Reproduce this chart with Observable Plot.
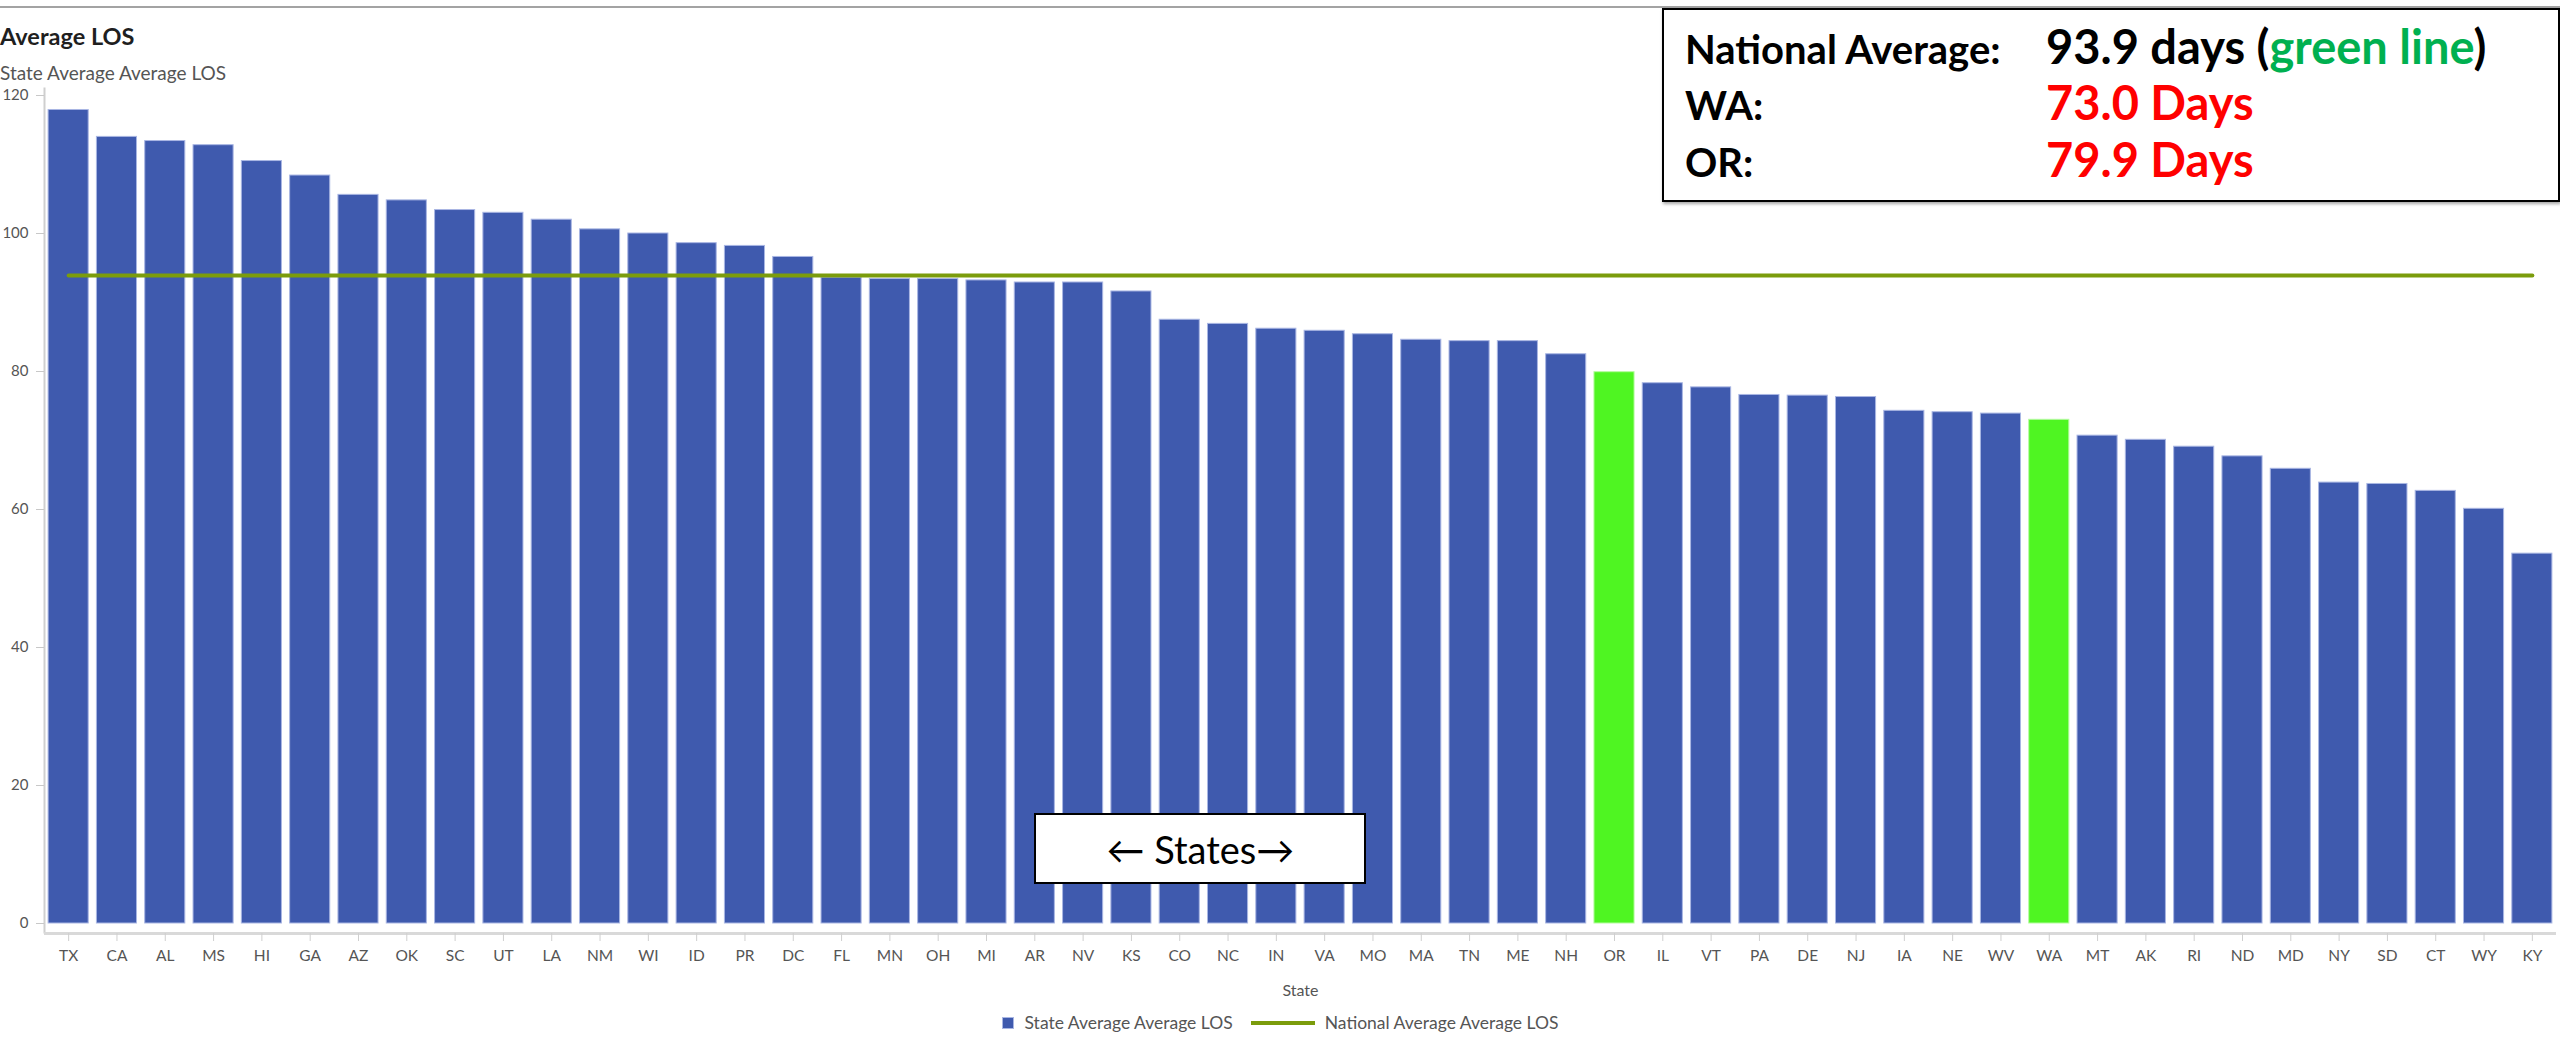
<!DOCTYPE html>
<html>
<head>
<meta charset="utf-8">
<script src="https://cdn.jsdelivr.net/npm/d3@7"></script>
<script src="https://cdn.jsdelivr.net/npm/@observablehq/plot@0.6"></script>
<style>
  html, body { margin: 0; padding: 0; background: #fff; width: 2560px; height: 1040px; overflow: hidden; }
  body { font-family: Lato, "Noto Sans", sans-serif; }
  #wrap { position: relative; width: 2560px; height: 1040px; }
  #header { position: relative; height: 88px; }
  #topline { position: absolute; left: 0; top: 6px; width: 2560px; height: 2px; background: #a3a3a3; }
  #title { position: absolute; left: 0; top: 25px; font-size: 23.5px; line-height: 23.5px; font-weight: 700; color: #1f1f1f; white-space: nowrap; }
  #subtitle { position: absolute; left: 0; top: 63px; font-size: 19px; line-height: 19px; color: #555; white-space: nowrap; }
  #chart { position: relative; height: 917px; }
  #legend { position: relative; height: 35px; display: flex; justify-content: center; align-items: center; font-size: 17.5px; color: #555; }
  #legend .sw { width: 12px; height: 12px; background: #3f5aae; border: 1px solid #a9b6e3; margin-right: 11px; box-sizing: border-box; }
  #legend .ln { width: 64px; height: 4px; background: #7b9c0c; margin: 0 10px 0 18px; }
  #note { position: absolute; left: 1662px; top: 8px; width: 898px; height: 194px; box-sizing: border-box; border: 2px solid #000; background: #fff; box-shadow: 1px 2px 3px rgba(0,0,0,0.35); font-family: Lato, "Noto Sans", sans-serif; font-weight: 700; color: #000; z-index: 5; }
  #note div { position: absolute; white-space: nowrap; }
  #note .c1 { font-size: 40px; line-height: 40px; }
  #note .c2 { font-size: 47px; line-height: 47px; }
  #states { position: absolute; top: 813px; height: 71px; box-sizing: border-box; border: 2px solid #000; background: #fff; display: flex; justify-content: center; align-items: center; font-size: 38px; color: #000; z-index: 5; white-space: nowrap; }
</style>
</head>
<body>
<div id="wrap">
  <div id="header">
    <div id="topline"></div>
    <div id="title">Average LOS</div>
    <div id="subtitle">State Average Average LOS</div>
  </div>
  <div id="chart"></div>
  <div id="legend"></div>
  <div id="note"></div>
  <div id="states"></div>
</div>
<script>
// ---- data ----
const states = ["TX","CA","AL","MS","HI","GA","AZ","OK","SC","UT","LA","NM","WI","ID","PR","DC","FL","MN","OH","MI","AR","NV","KS","CO","NC","IN","VA","MO","MA","TN","ME","NH","OR","IL","VT","PA","DE","NJ","IA","NE","WV","WA","MT","AK","RI","ND","MD","NY","SD","CT","WY","KY"];
const stateAverageLOS = [117.9,114.0,113.4,112.8,110.5,108.4,105.6,104.8,103.4,103.0,102.0,100.6,100.0,98.6,98.2,96.6,93.6,93.4,93.4,93.2,92.9,92.9,91.6,87.5,86.9,86.2,85.9,85.4,84.6,84.4,84.4,82.5,79.9,78.3,77.7,76.6,76.5,76.3,74.3,74.1,73.9,73.0,70.7,70.1,69.1,67.7,65.9,63.9,63.7,62.7,60.1,53.6];
const nationalAverageLOS = 93.9;
const highlighted = ["OR", "WA"];
const yTicks = [0, 20, 40, 60, 80, 100, 120];
const seriesNames = ["State Average Average LOS", "National Average Average LOS"];
const noteRows = [
  ["National Average:", "93.9 days", "green line"],
  ["WA:", "73.0 Days"],
  ["OR:", "79.9 Days"]
];
const statesBoxLabel = "\u2190 States\u2192";
const statesBoxSpan = ["AR", "MO"];

const BLUE = "#3f5aae", GREEN = "#4ff522", LINE = "#7b9c0c";

const data = states.map((s, i) => ({state: s, value: stateAverageLOS[i]}));

const chart = Plot.plot({
  width: 2560,
  height: 917,
  marginTop: 7,
  marginBottom: 82,
  marginLeft: 44,
  marginRight: 4,
  style: {fontFamily: "Lato, 'Noto Sans', sans-serif", fontSize: "15px", color: "#555", background: "transparent", overflow: "visible"},
  x: {domain: states, paddingInner: 0.17, paddingOuter: 0.085, round: false, label: null},
  y: {domain: [0, 120], label: null},
  marks: [
    Plot.barY(data, {x: "state", y: "value", fill: d => highlighted.includes(d.state) ? GREEN : BLUE, stroke: d => highlighted.includes(d.state) ? "#b6fba0" : "#a9b6e3", strokeWidth: 1}),
    Plot.lineY(data, {x: "state", y: () => nationalAverageLOS, stroke: LINE, strokeWidth: 4}),
    Plot.frame({anchor: "left", stroke: "#cfcfcf", strokeWidth: 2, insetTop: -7, insetBottom: -9}),
    Plot.ruleY([0], {dy: 10, stroke: "#d9d9d9", strokeWidth: 3}),
    Plot.axisY({ticks: yTicks, tickSize: 8, tickPadding: 8, stroke: "#c8c8c8", fill: "#555", label: null, fontSize: 15}),
    Plot.axisX({tickSize: 8, tickPadding: 8, dy: 10, stroke: "#cfcfcf", fill: "#555", label: null, fontSize: 15.5}),
    Plot.text(["State"], {frameAnchor: "bottom", lineAnchor: "bottom", dy: 72, fontSize: 16, fill: "#555"})
  ]
});
document.getElementById("chart").appendChild(chart);

// legend
const legend = document.getElementById("legend");
legend.innerHTML = `<div class="sw"></div><span>${seriesNames[0]}</span><div class="ln"></div><span>${seriesNames[1]}</span>`;

// note box
const note = document.getElementById("note");
const rowBaselines = [54, 110, 167];
noteRows.forEach((r, i) => {
  const a = document.createElement("div");
  a.className = "c1";
  a.style.left = "21px"; a.style.top = (rowBaselines[i] - 35.5) + "px";
  a.textContent = r[0];
  note.appendChild(a);
  const b = document.createElement("div");
  b.className = "c2";
  b.style.left = "382px"; b.style.top = (rowBaselines[i] - 41.5) + "px";
  if (r[2]) {
    b.innerHTML = `<span>${r[1]} (</span><span style="color:#00b050">${r[2]}</span><span>)</span>`;
  } else {
    b.style.color = "#ff0000";
    b.textContent = r[1];
  }
  note.appendChild(b);
});

// states box positioned from the x scale
const sx = chart.scale("x");
const bw = sx.bandwidth;
const x0 = sx.apply(statesBoxSpan[0]) + bw / 2;
const x1 = sx.apply(statesBoxSpan[1]) + bw / 2 - 6;
const sb = document.getElementById("states");
sb.style.left = x0 + "px";
sb.style.width = (x1 - x0) + "px";
sb.textContent = statesBoxLabel;
</script>
</body>
</html>
